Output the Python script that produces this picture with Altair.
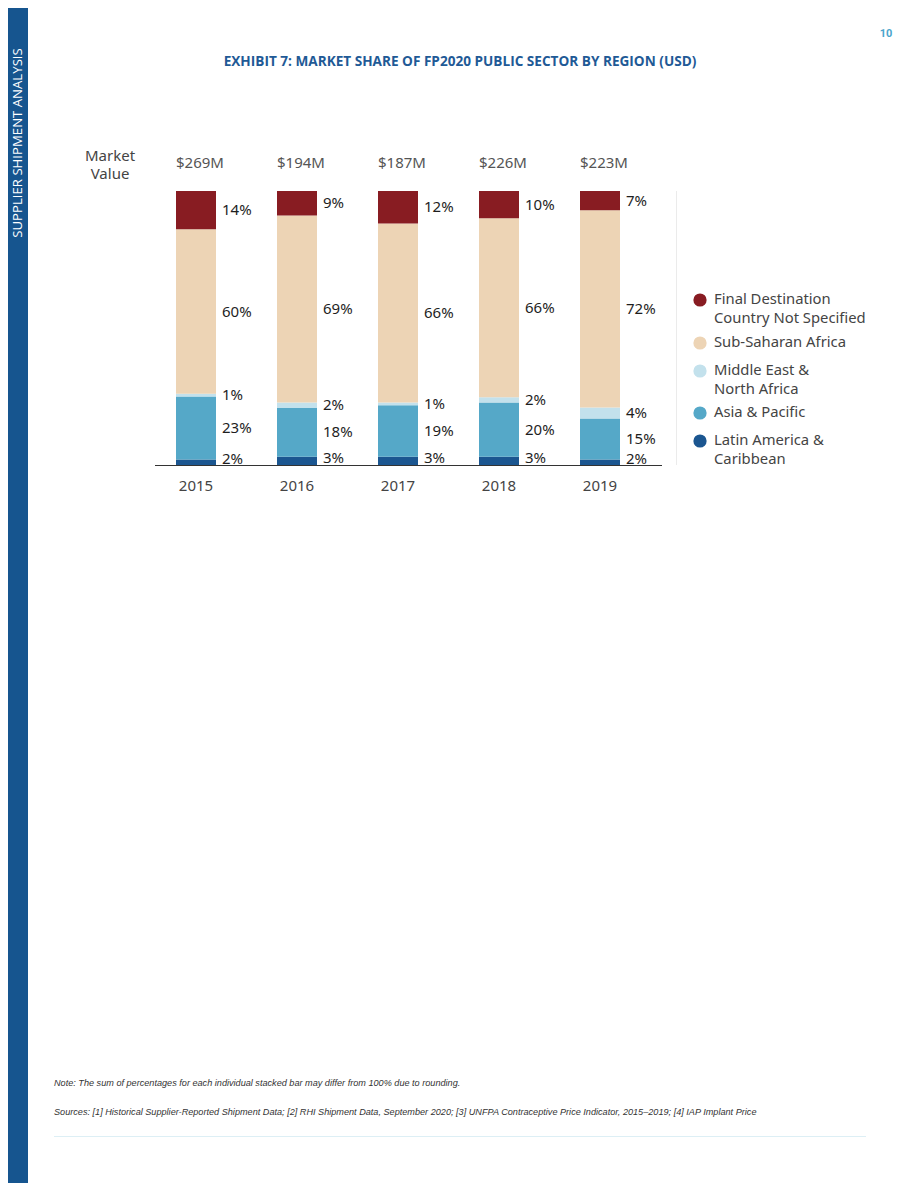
import altair as alt
import pandas as pd

# ---------------- data ----------------
years = ['2015', '2016', '2017', '2018', '2019']
market_values = ['$269M', '$194M', '$187M', '$226M', '$223M']
regions = ['Latin America & Caribbean', 'Asia & Pacific', 'Middle East & North Africa',
           'Sub-Saharan Africa', 'Final Destination Country Not Specified']
latin_america = [2, 3, 3, 3, 2]
asia_pacific = [23, 18, 19, 20, 15]
middle_east = [1, 2, 1, 2, 4]
sub_saharan = [60, 69, 66, 66, 72]
final_dest = [14, 9, 12, 10, 7]
colors = ['#1B5690', '#55A8C8', '#C3E1EC', '#EDD4B5', '#881C22']

legend_order = ['Final Destination Country Not Specified', 'Sub-Saharan Africa',
                'Middle East & North Africa', 'Asia & Pacific', 'Latin America & Caribbean']
legend_lines = {
    'Final Destination Country Not Specified': ['Final Destination', 'Country Not Specified'],
    'Sub-Saharan Africa': ['Sub-Saharan Africa'],
    'Middle East & North Africa': ['Middle East &', 'North Africa'],
    'Asia & Pacific': ['Asia & Pacific'],
    'Latin America & Caribbean': ['Latin America &', 'Caribbean'],
}

title_text = 'EXHIBIT 7: MARKET SHARE OF FP2020 PUBLIC SECTOR BY REGION (USD)'
side_text = 'SUPPLIER SHIPMENT ANALYSIS'
page_no = '10'
note_text = 'Note: The sum of percentages for each individual stacked bar may differ from 100% due to rounding.'
source_text = ('Sources: [1] Historical Supplier-Reported Shipment Data; [2] RHI Shipment Data, '
               'September 2020; [3] UNFPA Contraceptive Price Indicator, 2015\u20132019; [4] IAP Implant Price')

series = [latin_america, asia_pacific, middle_east, sub_saharan, final_dest]
rows = []
for ri, (reg, vals) in enumerate(zip(regions, series)):
    for y, v in zip(years, vals):
        rows.append({'year': y, 'region': reg, 'rank': ri, 'share': v, 'label': f'{v}%'})
df = pd.DataFrame(rows)
mv_df = pd.DataFrame({'year': years, 'mv': market_values})

W, H = 904, 1175
def px(v):  # page coordinate -> chart coordinate
    return v - 8

FONT = 'Noto Sans'

xscale = alt.Scale(domain=years, range=[px(145.5), px(650.5)], paddingInner=0.604, paddingOuter=0.302)
yscale = alt.Scale(domain=[0, 1], range=[px(465), px(191)])
cscale = alt.Scale(domain=regions, range=colors)

stacked = alt.Chart(df).transform_stack(
    stack='share', groupby=['year'], as_=['y0', 'y1'],
    sort=[alt.SortField('rank', order='ascending')], offset='normalize'
).transform_calculate(mid='(datum.y0 + datum.y1) / 2')

bars = stacked.mark_bar().encode(
    x=alt.X('year:N', scale=xscale, axis=None),
    y=alt.Y('y0:Q', scale=yscale, axis=None),
    y2='y1:Q',
    color=alt.Color('region:N', scale=cscale, legend=None),
)

def label_layer(filt, dy):
    return stacked.transform_filter(filt).mark_text(
        align='left', baseline='middle', dx=6, dy=dy, font=FONT, fontSize=15, color='#1e1e1e'
    ).encode(
        x=alt.X('year:N', scale=xscale, axis=None, bandPosition=1),
        y=alt.Y('mid:Q', scale=yscale, axis=None),
        text='label:N',
    )

labels_main = label_layer('datum.rank > 0', 0)
labels_bottom = label_layer('datum.rank == 0', -3)

mv_labels = alt.Chart(mv_df).mark_text(align='left', baseline='middle', font=FONT, fontSize=15,
                                       color='#555555').encode(
    x=alt.X('year:N', scale=xscale, axis=None, bandPosition=0),
    y=alt.value(px(163)),
    text='mv:N',
)

year_labels = alt.Chart(mv_df).mark_text(align='center', baseline='middle', font=FONT, fontSize=15,
                                         color='#444444').encode(
    x=alt.X('year:N', scale=xscale, axis=None, bandPosition=0.5),
    y=alt.value(px(486)),
    text='year:N',
)

one = pd.DataFrame({'a': [0]})

baseline_rule = alt.Chart(one).mark_rule(color='#333333', strokeWidth=1.2).encode(
    x=alt.value(px(155)), x2=alt.value(px(662)), y=alt.value(px(465.5)))
sep_rule = alt.Chart(one).mark_rule(color='#ebebeb', strokeWidth=1).encode(
    x=alt.value(px(676.5)), y=alt.value(px(191)), y2=alt.value(px(465)))

sidebar = alt.Chart(one).mark_rect(color='#16558F').encode(
    x=alt.value(0), x2=alt.value(px(28)), y=alt.value(0), y2=alt.value(H))

def text_layer(txt, x, y, **kw):
    return alt.Chart(pd.DataFrame({'t': [txt]})).mark_text(**kw).encode(
        text='t:N', x=alt.value(px(x)), y=alt.value(px(y)))

layers = [sidebar, bars, labels_main, labels_bottom, mv_labels, year_labels, baseline_rule, sep_rule]

layers.append(text_layer(side_text, 18, 143, angle=270, align='center', baseline='middle',
                         font='Open Sans', fontSize=13.2, color='#ffffff'))
layers.append(text_layer(title_text, 460, 62, align='center', baseline='middle',
                         font='Open Sans', fontWeight='bold', fontSize=13.6, color='#1F5A96'))
layers.append(text_layer(page_no, 886, 34, align='center', baseline='middle',
                         font='Roboto', fontWeight='bold', fontSize=11, color='#4BA5CC'))
layers.append(text_layer('Market', 110, 156, align='center', baseline='middle',
                         font=FONT, fontSize=15, color='#444444'))
layers.append(text_layer('Value', 110, 174, align='center', baseline='middle',
                         font=FONT, fontSize=15, color='#444444'))
layers.append(text_layer(note_text, 54, 1083, align='left', baseline='middle',
                         font='Liberation Sans', fontStyle='italic', fontSize=9.15, color='#333333'))
layers.append(text_layer(source_text, 54, 1112, align='left', baseline='middle',
                         font='Liberation Sans', fontStyle='italic', fontSize=9.15, color='#333333'))
layers.append(alt.Chart(one).mark_rule(color='#DDEFF5', strokeWidth=1).encode(
    x=alt.value(px(54)), x2=alt.value(px(866)), y=alt.value(px(1136.5))))

# manual legend
legend_first_y = [300, 343, 371, 413, 441]
for reg, y0 in zip(legend_order, legend_first_y):
    col = colors[regions.index(reg)]
    layers.append(alt.Chart(one).mark_point(filled=True, shape='circle', size=175, opacity=1,
                                            color=col).encode(
        x=alt.value(px(700)), y=alt.value(px(y0))))
    for li, line in enumerate(legend_lines[reg]):
        layers.append(text_layer(line, 714, y0 + 19 * li, align='left', baseline='middle',
                                 font=FONT, fontSize=14.8, color='#444444'))

chart = alt.layer(*layers).properties(
    width=W, height=H, autosize=alt.AutoSizeParams(type='none'), padding=0
).configure_view(stroke=None)

chart.save('out.html', embed_options={'renderer': 'svg', 'actions': False})
